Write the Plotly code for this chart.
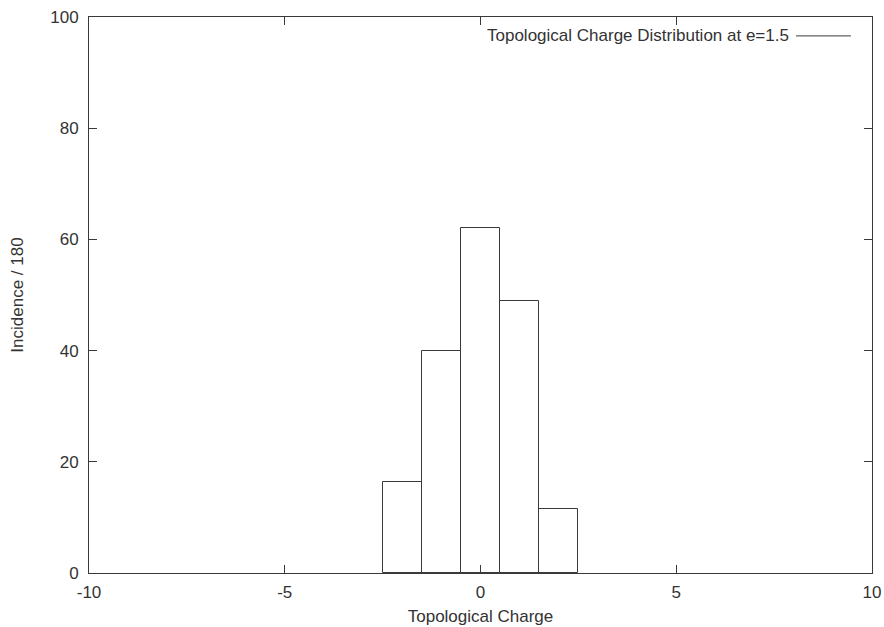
import plotly.graph_objects as go

# Histogram of topological charge over 180 configurations
charges = [-2, -1, 0, 1, 2]
incidence = [16.4, 40, 62, 49, 11.5]
legend_label = "Topological Charge Distribution at e=1.5"

x_ticks = [-10, -5, 0, 5, 10]
y_ticks = [0, 20, 40, 60, 80, 100]

line_col = "#3a3a3a"
font = dict(family="Liberation Sans, Arial, sans-serif", size=17, color="#333333")

fig = go.Figure()
fig.add_trace(go.Bar(
    x=charges, y=incidence, width=1,
    marker=dict(color="rgba(255,255,255,0)", line=dict(color=line_col, width=1)),
    showlegend=False,
))

# gnuplot-style key: label followed by a line sample
fig.add_annotation(
    x=0.896, y=0.966, xref="paper", yref="paper",
    xanchor="right", yanchor="middle", showarrow=False,
    text=legend_label, font=font,
)
fig.add_shape(type="line", xref="paper", yref="paper",
              x0=0.903, x1=0.973, y0=0.966, y1=0.966,
              line=dict(color=line_col, width=1))

axis_common = dict(
    showgrid=False, zeroline=False, showline=True, linecolor=line_col,
    linewidth=1, mirror="ticks", ticks="inside", ticklen=8,
    tickcolor=line_col, tickfont=font, automargin=False,
)
fig.update_xaxes(range=[-10, 10], tickvals=x_ticks, ticktext=[str(v) for v in x_ticks],
                 ticklabelstandoff=4,
                 title=dict(text="Topological Charge", font=font, standoff=8),
                 **axis_common)
fig.update_yaxes(range=[0, 100], tickvals=y_ticks, ticktext=[str(v) for v in y_ticks],
                 ticklabelstandoff=6,
                 title=dict(text="Incidence / 180", font=font, standoff=22),
                 **axis_common)

fig.update_layout(
    width=884, height=627,
    margin=dict(l=89, r=12, t=17, b=54),
    paper_bgcolor="white", plot_bgcolor="white",
    bargap=0, font=font,
)

fig.write_html("out.html")
